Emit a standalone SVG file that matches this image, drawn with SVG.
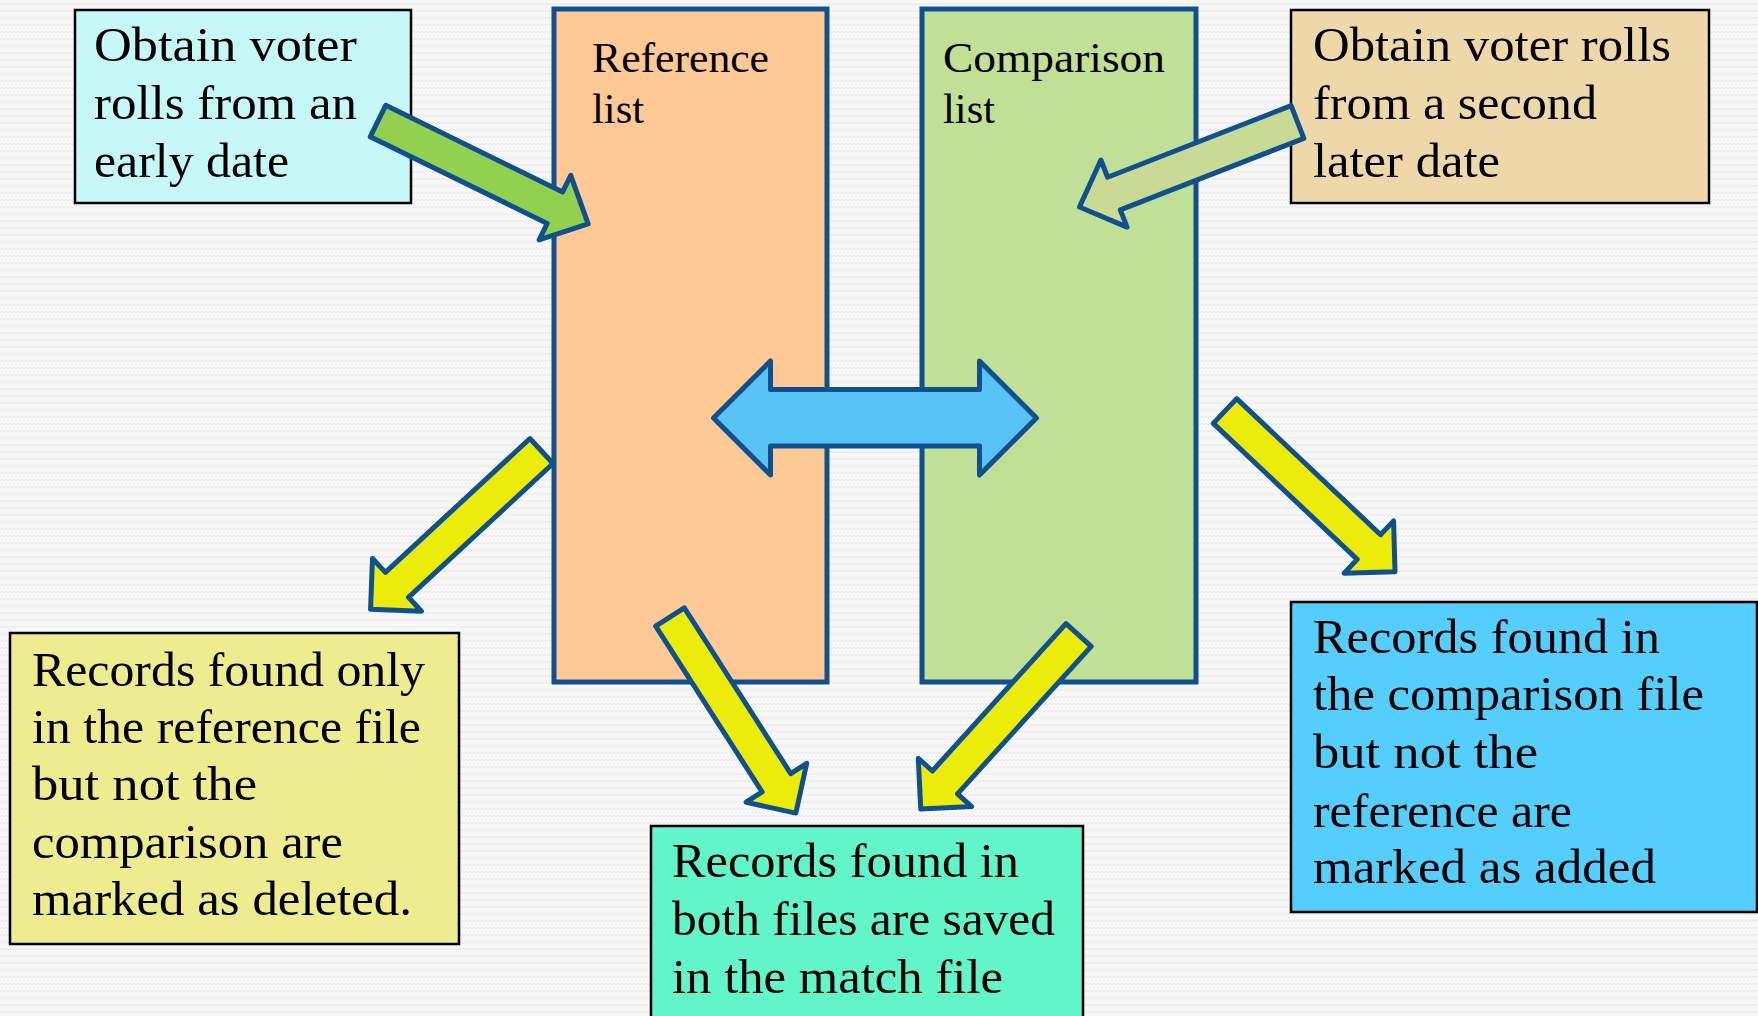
<svg xmlns="http://www.w3.org/2000/svg" width="1758" height="1016" viewBox="0 0 1758 1016">
<defs>
<pattern id="bg" width="8" height="7" patternUnits="userSpaceOnUse">
<rect width="8" height="7" fill="#F7F7F7"/>
<path d="M0,5 L2,3 L4,5 L6,3 L8,5" fill="none" stroke="#E6E6E6" stroke-width="0.8"/>
</pattern>
<style>
.box{stroke:#000;stroke-width:2.5}
.list{stroke:#11508F;stroke-width:5}
.arr{stroke:#11508F;stroke-width:5;stroke-linejoin:round}
.t{font-family:"Liberation Serif","Times New Roman",serif;font-size:48px;fill:#000}
.tl{font-family:"Liberation Serif","Times New Roman",serif;font-size:42px;fill:#000}
.y{fill:#ECEC0A}
</style>
</defs>
<rect width="1758" height="1016" fill="url(#bg)"/>

<g id="reference-list">
<rect class="list" x="554" y="9" width="273" height="673" fill="#FEC995"/>
<text class="tl" x="592" y="72" textLength="177" lengthAdjust="spacingAndGlyphs">Reference</text>
<text class="tl" x="592" y="123" textLength="52" lengthAdjust="spacingAndGlyphs">list</text>
</g>
<g id="comparison-list">
<rect class="list" x="922" y="9" width="274" height="673" fill="#BFE095"/>
<text class="tl" x="943" y="72" textLength="222" lengthAdjust="spacingAndGlyphs">Comparison</text>
<text class="tl" x="943" y="123" textLength="52" lengthAdjust="spacingAndGlyphs">list</text>
</g>

<g id="early-rolls">
<rect class="box" x="75" y="10" width="336" height="193" fill="#C6F8F8"/>
<text class="t" x="94" y="61" textLength="263" lengthAdjust="spacingAndGlyphs">Obtain voter</text>
<text class="t" x="94" y="119" textLength="263" lengthAdjust="spacingAndGlyphs">rolls from an</text>
<text class="t" x="94" y="177" textLength="195" lengthAdjust="spacingAndGlyphs">early date</text>
</g>
<g id="later-rolls">
<rect class="box" x="1291" y="10" width="418" height="193" fill="#EED7A8"/>
<text class="t" x="1313" y="61" textLength="358" lengthAdjust="spacingAndGlyphs">Obtain voter rolls</text>
<text class="t" x="1313" y="119" textLength="284" lengthAdjust="spacingAndGlyphs">from a second</text>
<text class="t" x="1313" y="177" textLength="187" lengthAdjust="spacingAndGlyphs">later date</text>
</g>
<g id="deleted">
<rect class="box" x="10" y="633" width="449" height="311" fill="#EDED8F"/>
<text class="t" x="32" y="686" textLength="393" lengthAdjust="spacingAndGlyphs">Records found only</text>
<text class="t" x="32" y="743" textLength="389" lengthAdjust="spacingAndGlyphs">in the reference file</text>
<text class="t" x="32" y="800" textLength="225" lengthAdjust="spacingAndGlyphs">but not the</text>
<text class="t" x="32" y="858" textLength="311" lengthAdjust="spacingAndGlyphs">comparison are</text>
<text class="t" x="32" y="915" textLength="380" lengthAdjust="spacingAndGlyphs">marked as deleted.</text>
</g>
<g id="match">
<rect class="box" x="651" y="826" width="432" height="200" fill="#61F5C9"/>
<text class="t" x="672" y="877" textLength="347" lengthAdjust="spacingAndGlyphs">Records found in</text>
<text class="t" x="672" y="935" textLength="383" lengthAdjust="spacingAndGlyphs">both files are saved</text>
<text class="t" x="672" y="993" textLength="331" lengthAdjust="spacingAndGlyphs">in the match file</text>
</g>
<g id="added">
<rect class="box" x="1291" y="602" width="466" height="310" fill="#54CFFD"/>
<text class="t" x="1313" y="653" textLength="347" lengthAdjust="spacingAndGlyphs">Records found in</text>
<text class="t" x="1313" y="710" textLength="391" lengthAdjust="spacingAndGlyphs">the comparison file</text>
<text class="t" x="1313" y="768" textLength="225" lengthAdjust="spacingAndGlyphs">but not the</text>
<text class="t" x="1313" y="827" textLength="259" lengthAdjust="spacingAndGlyphs">reference are</text>
<text class="t" x="1313" y="883" textLength="343" lengthAdjust="spacingAndGlyphs">marked as added</text>
</g>

<g id="connectors">
<polygon class="arr" fill="#92D050" points="0,-17.5 197,-17.5 197,-36 234,0 197,36 197,17.5 0,17.5" transform="translate(378,121) rotate(26.1)"/>
<polygon class="arr" fill="#C9DA94" points="0,-17.5 197,-17.5 197,-36 234,0 197,36 197,17.5 0,17.5" transform="translate(1297.5,122) rotate(158.7)"/>
<polygon class="arr" fill="#58C3F7" points="713.5,418 770.5,361 770.5,389.5 979.5,389.5 979.5,361 1036.5,418 979.5,475 979.5,446 770.5,446 770.5,475"/>
<polygon class="arr y" points="0,-17 197,-17 197,-36 233,0 197,36 197,17 0,17" transform="translate(541.5,451) rotate(137.2)"/>
<polygon class="arr y" points="0,-17 197,-17 197,-36 233,0 197,36 197,17 0,17" transform="translate(670,617) rotate(57.3)"/>
<polygon class="arr y" points="0,-17 199,-17 199,-36 235,0 199,36 199,17 0,17" transform="translate(1078.6,635) rotate(132.2)"/>
<polygon class="arr y" points="0,-17 198,-17 198,-36 234,0 198,36 198,17 0,17" transform="translate(1225,411) rotate(43.4)"/>
</g>
</svg>
